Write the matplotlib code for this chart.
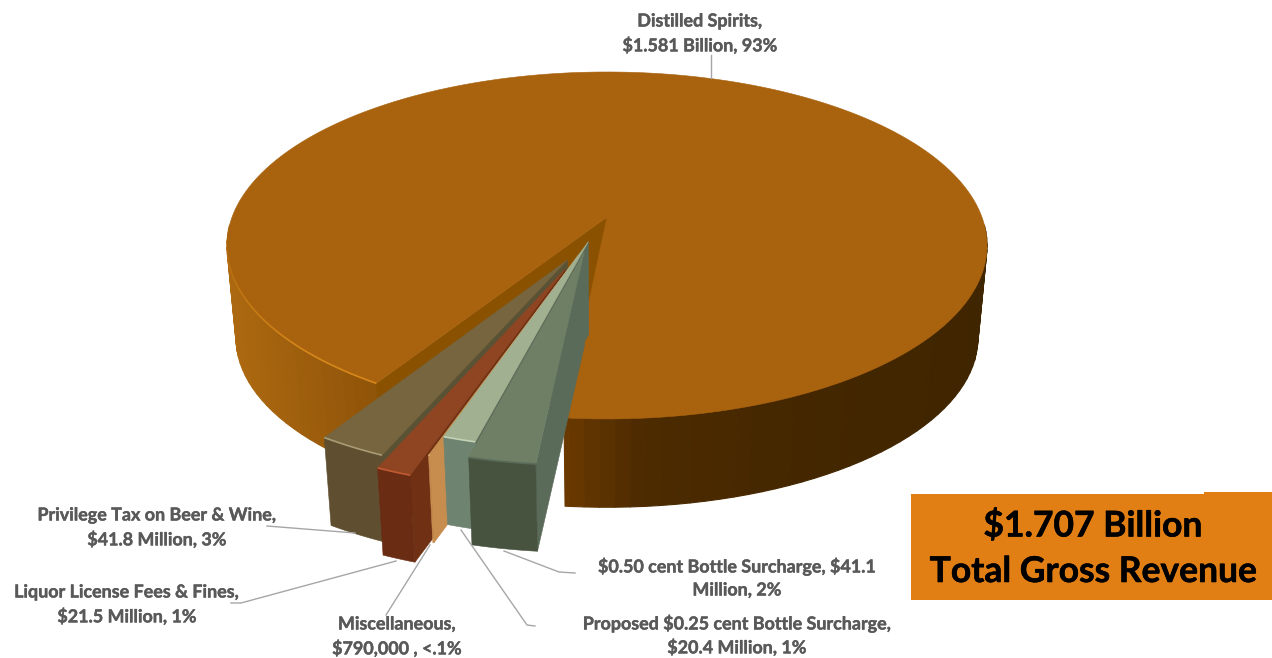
"""Revenue breakdown drawn as an exploded 3D pie with a total callout."""
import numpy as np
import matplotlib
matplotlib.use("Agg")
import matplotlib.pyplot as plt
import matplotlib.patheffects as pe
from matplotlib.collections import LineCollection, PolyCollection
from matplotlib.patches import Polygon, Rectangle

# ── data (millions of dollars, clockwise from the front of the pie) ───────────
categories = [
    "$0.50 cent Bottle Surcharge",
    "Proposed $0.25 cent Bottle Surcharge",
    "Miscellaneous",
    "Liquor License Fees & Fines",
    "Privilege Tax on Beer & Wine",
    "Distilled Spirits",
]
values = [41.1, 20.4, 0.79, 21.5, 41.8, 1581.0]
value_labels = [
    ["$0.50 cent Bottle Surcharge, $41.1", "Million, 2%"],
    ["Proposed $0.25 cent Bottle Surcharge,", "$20.4 Million, 1%"],
    ["Miscellaneous,", "$790,000 , <.1%"],
    ["Liquor License Fees & Fines,", "$21.5 Million, 1%"],
    ["Privilege Tax on Beer & Wine,", "$41.8 Million, 3%"],
    ["Distilled Spirits,", "$1.581 Billion, 93%"],
]
total_lines = ["$1.707 Billion", "Total Gross Revenue"]

# ── slice styling, same order as the data ─────────────────────────────────────
explode = [0.0625, 0.0, 0.078, 0.162, 0.115, -0.151]
radius = [0.98, 0.98, 0.98, 0.98, 0.98, 1.0]
TOP = ["#6F7F66", "#A0B090", "#C8914F", "#8F4522", "#76653F", "#A9620D"]
WALL = ["#47523F", "#6F8470", "#C78D4F", "#6B2C14", "#5F4E30", "#8C5006"]
FACE = ["#5B6B59", "#5B6B59", "#C78D4F", "#6F3013", "#5A5235", "#8A5200"]
RIM = ["#586A58", "#C3D2B5", "#E0B070", "#C05A33", "#A89C75", "#D98A1C"]

TEXT = "#595959"
LEADER = "#A6A6A6"
BOX = "#E27F14"

# ── projection of the pie plane on to the page ────────────────────────────────
START_ANGLE = 5.5
APEX_X, APEX_Y = 607.0, 217.0
SCALE_X, SCALE_Y = 374.9, 168.8
TILT = -0.164
VANISH_X, VANISH_Y = 606.0, 4100.0
DEPTH = 0.976

# main slice wall shading, left to right across the page
WALL_X = [227, 330, 378, 563, 640, 800, 987]
WALL_R = [0xAD, 0x98, 0x8F, 0x6B, 0x4D, 0x44, 0x3F]
WALL_G = [0x69, 0x5A, 0x54, 0x3A, 0x2B, 0x27, 0x25]
WALL_B = [0x10, 0x0B, 0x08, 0x00, 0x00, 0x00, 0x00]


def project(u, v):
    w = 1 + TILT * v
    return APEX_X + SCALE_X * u / w, APEX_Y + SCALE_Y * v / w


def lower(pts):
    """Same points on the underside of the pie."""
    pts = np.asarray(pts, dtype=float)
    out = pts.copy()
    out[..., 0] = VANISH_X + DEPTH * (pts[..., 0] - VANISH_X)
    out[..., 1] = VANISH_Y + DEPTH * (pts[..., 1] - VANISH_Y)
    return out


def direction(phi):
    a = np.radians(phi)
    return -np.sin(a), np.cos(a)


def wall_color(x):
    return (np.interp(x, WALL_X, WALL_R) / 255,
            np.interp(x, WALL_X, WALL_G) / 255,
            np.interp(x, WALL_X, WALL_B) / 255)


fig = plt.figure(figsize=(12.72, 6.58), dpi=100, facecolor="white")
ax = fig.add_axes([0, 0, 1, 1])
ax.set_xlim(0, 1272)
ax.set_ylim(658, 0)
ax.axis("off")

# ── slice angles come straight from the values ────────────────────────────────
shares = np.array(values) / sum(values) * 360
edges = START_ANGLE + np.concatenate([[0], np.cumsum(shares)])
small_mid = (edges[0] + edges[5]) / 2
hub = -explode[5] * np.array(direction(small_mid))


def slice_geometry(i):
    mid = (edges[i] + edges[i + 1]) / 2
    du, dv = direction(mid)
    if i == 5:
        au, av = 0.0, 0.0
    else:
        au, av = hub[0] + explode[i] * du, hub[1] + explode[i] * dv
    n = max(3, int(shares[i] * 2))
    phi = np.linspace(edges[i], edges[i + 1], n)
    ru, rv = direction(phi)
    rim = np.column_stack(project(au + radius[i] * ru, av + radius[i] * rv))
    apex = np.array(project(au, av))
    return apex, rim


def draw_flat(i, zorder):
    apex, rim = slice_geometry(i)
    # radial face on the leading edge, then the rim wall, then the top
    face = [apex, rim[0], lower(rim[0]), lower(apex)]
    ax.add_patch(Polygon(face, closed=True, facecolor=FACE[i], edgecolor=FACE[i],
                         linewidth=0.4, zorder=zorder))
    wall = np.vstack([rim, lower(rim)[::-1]])
    ax.add_patch(Polygon(wall, closed=True, facecolor=WALL[i], edgecolor=WALL[i],
                         linewidth=0.4, zorder=zorder))
    top = np.vstack([apex, rim])
    ax.add_patch(Polygon(top, closed=True, facecolor=TOP[i], edgecolor=TOP[i],
                         linewidth=0.4, zorder=zorder))
    ax.plot(rim[:, 0], rim[:, 1], color=RIM[i], lw=1.2, zorder=zorder,
            solid_capstyle="butt")


# ── main slice ────────────────────────────────────────────────────────────────
apex, rim = slice_geometry(5)
under = lower(rim)
# the back half of the wall sits behind the top, so only the front is drawn
front = np.flatnonzero(rim[:, 1] > 225)
quads, colors = [], []
for run in (front[front < len(rim) / 2], front[front >= len(rim) / 2]):
    stops = np.append(run[:-1:4], run[-1])
    for a, b in zip(stops[:-1], stops[1:]):
        quads.append([rim[a], rim[b], under[b], under[a]])
        colors.append(wall_color((rim[a, 0] + rim[b, 0]) / 2))
ax.add_collection(PolyCollection(quads, facecolors=colors, edgecolors="none", zorder=1))
ax.add_collection(PolyCollection(quads, facecolors="none", edgecolors=colors,
                                 linewidths=0.8, zorder=1))
ax.add_patch(Polygon([apex, rim[0], under[0], lower(apex)], closed=True,
                     facecolor=FACE[5], edgecolor=FACE[5], linewidth=0.4, zorder=2))
ax.add_patch(Polygon(np.vstack([apex, rim]), closed=True, facecolor=TOP[5],
                     edgecolor=TOP[5], linewidth=0.4, zorder=3))
# thin bright edge along the front-left of the rim, fading towards the back
segments = [rim[k:k + 2] for k in range(110)]
fade = np.clip(np.linspace(1.3, 0.0, len(segments)), 0, 1)
edge_rgb = matplotlib.colors.to_rgb(RIM[5])
ax.add_collection(LineCollection(segments, colors=[(*edge_rgb, a) for a in fade],
                                 linewidths=1.2, zorder=3))

# ── pulled out slices, back to front ──────────────────────────────────────────
for z, i in enumerate([4, 3, 2, 1, 0]):
    draw_flat(i, 4 + z)

# ── leader lines ──────────────────────────────────────────────────────────────
leaders = [
    ([711, 711], [55, 78]),
    ([267, 355], [526, 533]),
    ([231, 241, 396], [603, 603, 561]),
    ([430, 386], [545, 615]),
    ([461, 527, 535], [530, 625, 626]),
    ([504, 559, 575], [551, 572, 573]),
]
for xs, ys in leaders:
    ax.plot(xs, ys, color=LEADER, lw=1.0, zorder=10)

# ── data labels ───────────────────────────────────────────────────────────────
thicker = [pe.withStroke(linewidth=0.3, foreground=TEXT)]
label_pos = [(737, 566), (737, 623), (397, 624), (127, 592), (157, 515), (700, 21)]
for lines, (x, y) in zip(value_labels, label_pos):
    for k, line in enumerate(lines):
        ax.text(x, y + k * 24, line, ha="center", va="center", color=TEXT,
                fontsize=12.9, fontweight="bold", family="Lato", zorder=11,
                parse_math=False, path_effects=thicker)

# ── total callout ─────────────────────────────────────────────────────────────
ax.add_patch(Rectangle((911, 494), 361, 106, facecolor=BOX, edgecolor="none", zorder=9))
ax.add_patch(Rectangle((1204, 492), 68, 3, facecolor=BOX, edgecolor="none", zorder=9))
for line, y in zip(total_lines, [526, 572]):
    ax.text(1093, y, line, ha="center", va="center", color="black", fontsize=25.5,
            fontweight="bold", family="Lato", zorder=11, parse_math=False,
            path_effects=[pe.withStroke(linewidth=0.4, foreground="black")])

fig.savefig("out.png", dpi=100, facecolor="white")
plt.close(fig)
